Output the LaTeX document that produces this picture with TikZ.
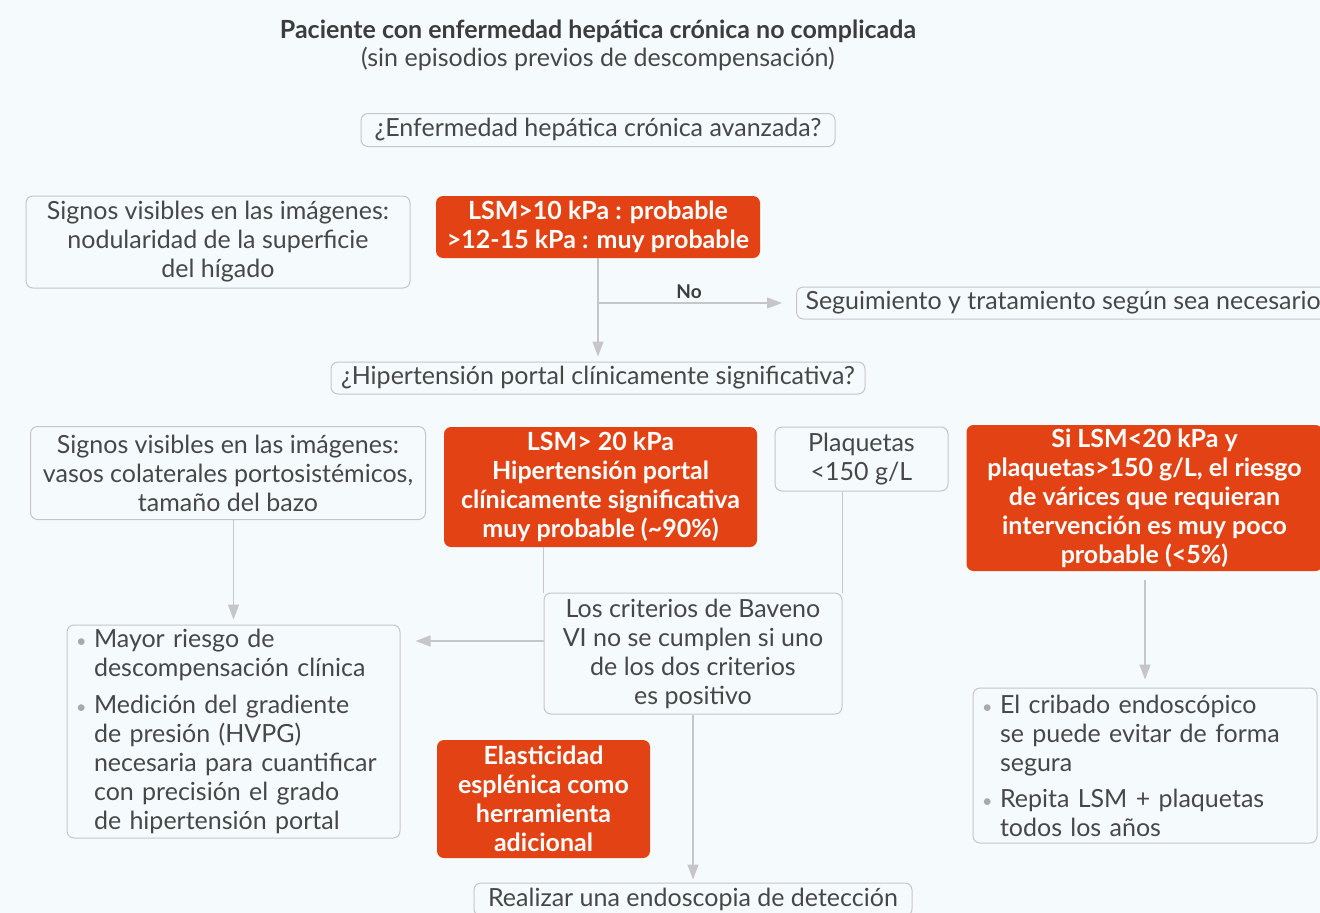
\documentclass[tikz,border=0pt]{standalone}
\usepackage{fontspec}
\setmainfont{Lato}
\usetikzlibrary{arrows.meta}

\definecolor{bgblue}{HTML}{F5FAFD}
\definecolor{hotred}{HTML}{E34215}
\definecolor{linegray}{HTML}{C6C6C9}
\definecolor{txtgray}{HTML}{474747}
\definecolor{dotgray}{HTML}{A9A9AC}

\newcommand{\bul}{\makebox[19pt][l]{\hspace{1pt}\textcolor{dotgray}{\fontsize{18}{18}\selectfont •}}}
\newcommand{\ind}{\hspace*{19pt}}

\tikzset{
  box/.style={draw=linegray, line width=1pt, rounded corners=7pt, fill=bgblue, text=txtgray,
    align=center, inner sep=0pt, font=\fontsize{25}{29}\selectfont},
  hot/.style={fill=hotred, rounded corners=7pt, text=white, align=center, inner sep=0pt,
    font=\fontsize{25}{29}\selectfont\bfseries},
  listbox/.style={box, align=left, inner xsep=8pt},
  link/.style={draw=linegray, line width=1.3pt},
  arr/.style={link, -{Triangle[length=15pt,width=11pt]}},
}

\begin{document}
\begin{tikzpicture}[x=1pt, y=-1pt]
\useasboundingbox (0,0) rectangle (1320,913);
\fill[bgblue] (0,0) rectangle (1320,913);
\clip (0,0) rectangle (1320,913);

% heading
\node (title) [text=txtgray!85!black, font=\fontsize{25}{29}\selectfont\bfseries] at (598,31) {Paciente con enfermedad hepática crónica no complicada};
\node (subtitle) [text=txtgray, font=\fontsize{25}{29}\selectfont] at (598,59) {(sin episodios previos de descompensación)};

% first question
\node (q1) [box, minimum width=474pt, minimum height=33pt] at (598,130) {¿Enfermedad hepática crónica avanzada?};
\node (signosA) [box, minimum width=384pt, minimum height=92pt] at (218,242) {Signos visibles en las imágenes:\\nodularidad de la superficie\\del hígado};
\node (lsmA) [hot, minimum width=324pt, minimum height=62pt] at (598,227) {LSM>10 kPa : probable\\>12-15 kPa : muy probable};
\node (seg) [box, anchor=west, inner xsep=9pt, minimum height=32pt] at (796,303) {Seguimiento y tratamiento según sea necesario};

% second question
\node (q2) [box, minimum width=534pt, minimum height=32pt] at (598,378) {¿Hipertensión portal clínicamente significativa?};
\node (signosB) [box, minimum width=395pt, minimum height=93pt] at (228,473) {Signos visibles en las imágenes:\\vasos colaterales portosistémicos,\\tamaño del bazo};
\node (lsmB) [hot, minimum width=313pt, minimum height=120pt] at (600.5,487) {LSM> 20 kPa\\Hipertensión portal\\clínicamente significativa\\muy probable (\textasciitilde90\%)};
\node (plaq) [box, minimum width=173pt, minimum height=64pt] at (861.5,459) {Plaquetas\\<150 g/L};
\node (lowrisk) [hot, minimum width=356pt, minimum height=146pt] at (1144.5,498) {Si LSM<20 kPa y\\plaquetas>150 g/L, el riesgo\\de várices que requieran\\intervención es muy poco\\probable (<5\%)};

% lower part
\node (riesgo) [listbox, text width=317pt, minimum height=213pt] at (233.5,731.5) {\bul Mayor riesgo de\\\ind descompensación clínica\\[8pt]\bul Medición del gradiente\\\ind de presión (HVPG)\\\ind necesaria para cuantificar\\\ind con precisión el grado\\\ind de hipertensión portal};
\node (baveno) [box, minimum width=298pt, minimum height=121pt] at (693,653.5) {Los criterios de Baveno\\VI no se cumplen si uno\\de los dos criterios\\es positivo};
\node (elast) [hot, minimum width=213pt, minimum height=118pt] at (543.5,799) {Elasticidad\\esplénica como\\herramienta\\adicional};
\node (cribado) [listbox, text width=328pt, minimum height=155pt] at (1145,765.5) {\bul El cribado endoscópico\\\ind se puede evitar de forma\\\ind segura\\[7pt]\bul Repita LSM + plaquetas\\\ind todos los años};
\node (endo) [box, minimum width=438pt, minimum height=33pt] at (693,899.5) {Realizar una endoscopia de detección};

% connectors
\coordinate (fork) at (lsmA.south |- seg.west);
\draw[arr, shorten >=5pt] (lsmA.south) -- (q2.north);
\draw[arr, shorten >=14pt] (fork) -- (seg.west) node[pos=0.46, above, text=txtgray!85!black, font=\fontsize{19}{22}\selectfont\bfseries] {No};
\draw[arr, shorten >=5pt] (riesgo.north |- signosB.south) -- (riesgo.north);
\draw[link] (lsmB.south -| baveno.west) -- (baveno.north west);
\draw[link] (plaq.south -| baveno.east) -- (baveno.north east);
\coordinate (bvw) at ([yshift=12.5pt]baveno.west);
\draw[arr, shorten >=15pt] (bvw) -- (bvw -| riesgo.east);
\draw[arr, shorten >=3pt] (baveno.south) -- (endo.north);
\draw[arr, shorten <=9pt, shorten >=8pt] (lowrisk.south -| cribado.north) -- (cribado.north);
\end{tikzpicture}
\end{document}
